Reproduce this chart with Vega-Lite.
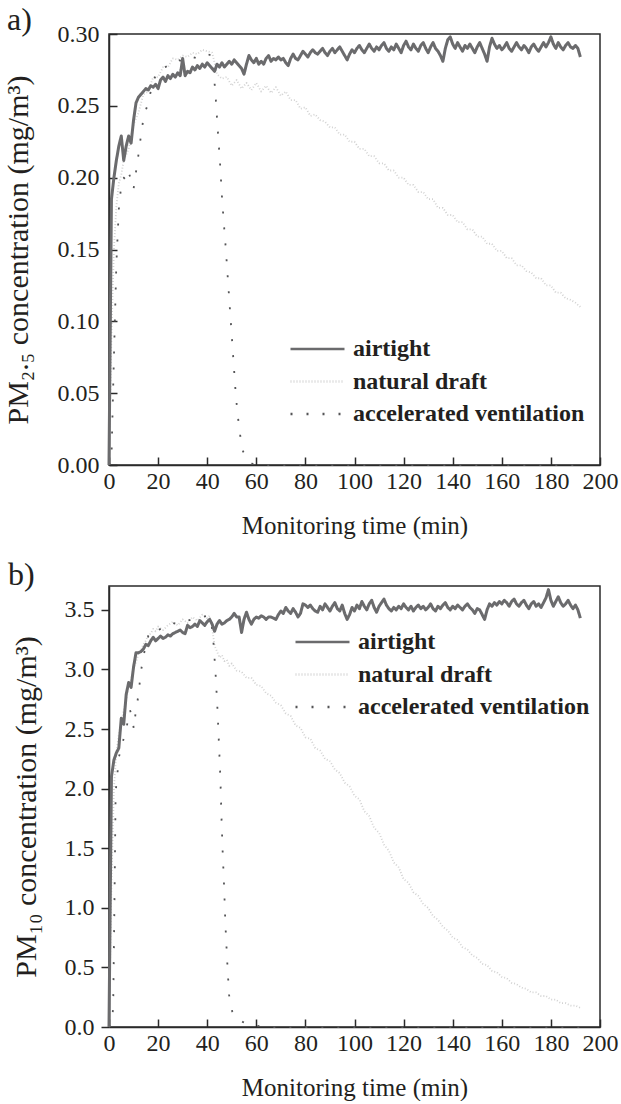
{
"$schema": "https://vega.github.io/schema/vega-lite/v6.json",
"background": "white",
"padding": {"left": 2, "top": 3, "right": 0, "bottom": 0},
"spacing": 19,
"datasets": {
"pa": [
{"s":"natural draft","t":0,"v":0},{"s":"natural draft","t":1,"v":0.09},{"s":"natural draft","t":2,"v":0.15},{"s":"natural draft","t":3,"v":0.18},{"s":"natural draft","t":4,"v":0.196},{"s":"natural draft","t":5,"v":0.202},{"s":"natural draft","t":6,"v":0.212},{"s":"natural draft","t":8,"v":0.22},{"s":"natural draft","t":10,"v":0.237},{"s":"natural draft","t":12,"v":0.245},{"s":"natural draft","t":14,"v":0.258},{"s":"natural draft","t":16,"v":0.26},{"s":"natural draft","t":18,"v":0.27},{"s":"natural draft","t":20,"v":0.27},{"s":"natural draft","t":22,"v":0.277},{"s":"natural draft","t":24,"v":0.277},{"s":"natural draft","t":26,"v":0.283},{"s":"natural draft","t":28,"v":0.282},{"s":"natural draft","t":30,"v":0.285},{"s":"natural draft","t":32,"v":0.284},{"s":"natural draft","t":34,"v":0.287},{"s":"natural draft","t":36,"v":0.286},{"s":"natural draft","t":38,"v":0.289},{"s":"natural draft","t":40,"v":0.288},{"s":"natural draft","t":42,"v":0.287},{"s":"natural draft","t":43,"v":0.28},{"s":"natural draft","t":44,"v":0.272},{"s":"natural draft","t":46,"v":0.269},{"s":"natural draft","t":48,"v":0.27},{"s":"natural draft","t":50,"v":0.264},{"s":"natural draft","t":52,"v":0.268},{"s":"natural draft","t":54,"v":0.262},{"s":"natural draft","t":56,"v":0.266},{"s":"natural draft","t":58,"v":0.261},{"s":"natural draft","t":60,"v":0.266},{"s":"natural draft","t":62,"v":0.26},{"s":"natural draft","t":64,"v":0.264},{"s":"natural draft","t":66,"v":0.259},{"s":"natural draft","t":68,"v":0.263},{"s":"natural draft","t":70,"v":0.257},{"s":"natural draft","t":72,"v":0.26},{"s":"natural draft","t":74,"v":0.254},{"s":"natural draft","t":76,"v":0.254},{"s":"natural draft","t":78,"v":0.248},{"s":"natural draft","t":80,"v":0.249},{"s":"natural draft","t":82,"v":0.243},{"s":"natural draft","t":84,"v":0.244},{"s":"natural draft","t":86,"v":0.24},{"s":"natural draft","t":88,"v":0.239},{"s":"natural draft","t":90,"v":0.235},{"s":"natural draft","t":92,"v":0.235},{"s":"natural draft","t":94,"v":0.23},{"s":"natural draft","t":96,"v":0.23},{"s":"natural draft","t":98,"v":0.225},{"s":"natural draft","t":100,"v":0.225},{"s":"natural draft","t":102,"v":0.22},{"s":"natural draft","t":104,"v":0.22},{"s":"natural draft","t":106,"v":0.215},{"s":"natural draft","t":108,"v":0.215},{"s":"natural draft","t":110,"v":0.21},{"s":"natural draft","t":112,"v":0.21},{"s":"natural draft","t":114,"v":0.205},{"s":"natural draft","t":116,"v":0.205},{"s":"natural draft","t":118,"v":0.2},{"s":"natural draft","t":120,"v":0.2},{"s":"natural draft","t":122,"v":0.195},{"s":"natural draft","t":124,"v":0.195},{"s":"natural draft","t":126,"v":0.19},{"s":"natural draft","t":128,"v":0.19},{"s":"natural draft","t":130,"v":0.185},{"s":"natural draft","t":132,"v":0.185},{"s":"natural draft","t":134,"v":0.179},{"s":"natural draft","t":136,"v":0.179},{"s":"natural draft","t":138,"v":0.174},{"s":"natural draft","t":140,"v":0.174},{"s":"natural draft","t":142,"v":0.169},{"s":"natural draft","t":144,"v":0.169},{"s":"natural draft","t":146,"v":0.164},{"s":"natural draft","t":148,"v":0.164},{"s":"natural draft","t":150,"v":0.159},{"s":"natural draft","t":152,"v":0.159},{"s":"natural draft","t":154,"v":0.154},{"s":"natural draft","t":156,"v":0.154},{"s":"natural draft","t":158,"v":0.149},{"s":"natural draft","t":160,"v":0.149},{"s":"natural draft","t":162,"v":0.144},{"s":"natural draft","t":164,"v":0.144},{"s":"natural draft","t":166,"v":0.139},{"s":"natural draft","t":168,"v":0.139},{"s":"natural draft","t":170,"v":0.135},{"s":"natural draft","t":172,"v":0.134},{"s":"natural draft","t":174,"v":0.13},{"s":"natural draft","t":176,"v":0.13},{"s":"natural draft","t":178,"v":0.125},{"s":"natural draft","t":180,"v":0.125},{"s":"natural draft","t":182,"v":0.12},{"s":"natural draft","t":184,"v":0.12},{"s":"natural draft","t":186,"v":0.116},{"s":"natural draft","t":188,"v":0.115},{"s":"natural draft","t":190,"v":0.113},{"s":"natural draft","t":192,"v":0.11},
{"s":"accelerated ventilation","t":0,"v":0},{"s":"accelerated ventilation","t":1,"v":0.005},{"s":"accelerated ventilation","t":2,"v":0.075},{"s":"accelerated ventilation","t":3,"v":0.14},{"s":"accelerated ventilation","t":4,"v":0.178},{"s":"accelerated ventilation","t":5,"v":0.195},{"s":"accelerated ventilation","t":6,"v":0.2},{"s":"accelerated ventilation","t":7,"v":0.198},{"s":"accelerated ventilation","t":8,"v":0.204},{"s":"accelerated ventilation","t":9,"v":0.198},{"s":"accelerated ventilation","t":10,"v":0.192},{"s":"accelerated ventilation","t":11,"v":0.204},{"s":"accelerated ventilation","t":12,"v":0.216},{"s":"accelerated ventilation","t":13,"v":0.229},{"s":"accelerated ventilation","t":14,"v":0.241},{"s":"accelerated ventilation","t":15,"v":0.247},{"s":"accelerated ventilation","t":16,"v":0.252},{"s":"accelerated ventilation","t":17,"v":0.26},{"s":"accelerated ventilation","t":18,"v":0.267},{"s":"accelerated ventilation","t":19,"v":0.271},{"s":"accelerated ventilation","t":20,"v":0.274},{"s":"accelerated ventilation","t":22,"v":0.276},{"s":"accelerated ventilation","t":24,"v":0.278},{"s":"accelerated ventilation","t":26,"v":0.28},{"s":"accelerated ventilation","t":28,"v":0.282},{"s":"accelerated ventilation","t":30,"v":0.281},{"s":"accelerated ventilation","t":32,"v":0.283},{"s":"accelerated ventilation","t":34,"v":0.284},{"s":"accelerated ventilation","t":36,"v":0.283},{"s":"accelerated ventilation","t":38,"v":0.285},{"s":"accelerated ventilation","t":40,"v":0.286},{"s":"accelerated ventilation","t":42,"v":0.285},{"s":"accelerated ventilation","t":43.3,"v":0.26},{"s":"accelerated ventilation","t":44.2,"v":0.236},{"s":"accelerated ventilation","t":45.2,"v":0.211},{"s":"accelerated ventilation","t":46,"v":0.187},{"s":"accelerated ventilation","t":46.7,"v":0.17},{"s":"accelerated ventilation","t":47.6,"v":0.15},{"s":"accelerated ventilation","t":48.4,"v":0.13},{"s":"accelerated ventilation","t":49.2,"v":0.11},{"s":"accelerated ventilation","t":50,"v":0.09},{"s":"accelerated ventilation","t":50.8,"v":0.07},{"s":"accelerated ventilation","t":51.6,"v":0.05},{"s":"accelerated ventilation","t":52.4,"v":0.035},{"s":"accelerated ventilation","t":53.5,"v":0.02},{"s":"accelerated ventilation","t":54.5,"v":0.01},{"s":"accelerated ventilation","t":56,"v":0.004},{"s":"accelerated ventilation","t":58,"v":0.001},{"s":"accelerated ventilation","t":62,"v":0},{"s":"accelerated ventilation","t":192,"v":0},
{"s":"airtight","t":0,"v":0},{"s":"airtight","t":1,"v":0.185},{"s":"airtight","t":2,"v":0.2},{"s":"airtight","t":3,"v":0.212},{"s":"airtight","t":4,"v":0.222},{"s":"airtight","t":5,"v":0.229},{"s":"airtight","t":6,"v":0.212},{"s":"airtight","t":7,"v":0.222},{"s":"airtight","t":8,"v":0.229},{"s":"airtight","t":9,"v":0.224},{"s":"airtight","t":10,"v":0.24},{"s":"airtight","t":11,"v":0.252},{"s":"airtight","t":12,"v":0.256},{"s":"airtight","t":13,"v":0.258},{"s":"airtight","t":14,"v":0.26},{"s":"airtight","t":15,"v":0.262},{"s":"airtight","t":16,"v":0.261},{"s":"airtight","t":17,"v":0.264},{"s":"airtight","t":18,"v":0.263},{"s":"airtight","t":19,"v":0.265},{"s":"airtight","t":20,"v":0.262},{"s":"airtight","t":21,"v":0.268},{"s":"airtight","t":22,"v":0.27},{"s":"airtight","t":23,"v":0.267},{"s":"airtight","t":24,"v":0.271},{"s":"airtight","t":25,"v":0.269},{"s":"airtight","t":26,"v":0.272},{"s":"airtight","t":27,"v":0.27},{"s":"airtight","t":28,"v":0.273},{"s":"airtight","t":29,"v":0.271},{"s":"airtight","t":30,"v":0.283},{"s":"airtight","t":31,"v":0.271},{"s":"airtight","t":32,"v":0.274},{"s":"airtight","t":33,"v":0.273},{"s":"airtight","t":34,"v":0.277},{"s":"airtight","t":35,"v":0.275},{"s":"airtight","t":36,"v":0.278},{"s":"airtight","t":37,"v":0.276},{"s":"airtight","t":38,"v":0.279},{"s":"airtight","t":39,"v":0.277},{"s":"airtight","t":40,"v":0.28},{"s":"airtight","t":41,"v":0.278},{"s":"airtight","t":42,"v":0.276},{"s":"airtight","t":43,"v":0.274},{"s":"airtight","t":44,"v":0.279},{"s":"airtight","t":45,"v":0.277},{"s":"airtight","t":46,"v":0.28},{"s":"airtight","t":47,"v":0.277},{"s":"airtight","t":48,"v":0.279},{"s":"airtight","t":49,"v":0.281},{"s":"airtight","t":50,"v":0.279},{"s":"airtight","t":51,"v":0.282},{"s":"airtight","t":52,"v":0.28},{"s":"airtight","t":53,"v":0.278},{"s":"airtight","t":54,"v":0.276},{"s":"airtight","t":55,"v":0.272},{"s":"airtight","t":56,"v":0.279},{"s":"airtight","t":57,"v":0.285},{"s":"airtight","t":58,"v":0.282},{"s":"airtight","t":59,"v":0.28},{"s":"airtight","t":60,"v":0.283},{"s":"airtight","t":61,"v":0.279},{"s":"airtight","t":62,"v":0.281},{"s":"airtight","t":63,"v":0.279},{"s":"airtight","t":64,"v":0.283},{"s":"airtight","t":65,"v":0.285},{"s":"airtight","t":66,"v":0.281},{"s":"airtight","t":67,"v":0.283},{"s":"airtight","t":68,"v":0.282},{"s":"airtight","t":69,"v":0.284},{"s":"airtight","t":70,"v":0.282},{"s":"airtight","t":71,"v":0.283},{"s":"airtight","t":72,"v":0.28},{"s":"airtight","t":73,"v":0.278},{"s":"airtight","t":74,"v":0.283},{"s":"airtight","t":75,"v":0.286},{"s":"airtight","t":76,"v":0.283},{"s":"airtight","t":77,"v":0.282},{"s":"airtight","t":78,"v":0.285},{"s":"airtight","t":79,"v":0.288},{"s":"airtight","t":80,"v":0.286},{"s":"airtight","t":81,"v":0.284},{"s":"airtight","t":82,"v":0.287},{"s":"airtight","t":83,"v":0.289},{"s":"airtight","t":84,"v":0.287},{"s":"airtight","t":85,"v":0.286},{"s":"airtight","t":86,"v":0.288},{"s":"airtight","t":87,"v":0.29},{"s":"airtight","t":88,"v":0.287},{"s":"airtight","t":89,"v":0.285},{"s":"airtight","t":90,"v":0.288},{"s":"airtight","t":91,"v":0.29},{"s":"airtight","t":92,"v":0.287},{"s":"airtight","t":93,"v":0.289},{"s":"airtight","t":94,"v":0.291},{"s":"airtight","t":95,"v":0.288},{"s":"airtight","t":96,"v":0.285},{"s":"airtight","t":97,"v":0.282},{"s":"airtight","t":98,"v":0.286},{"s":"airtight","t":99,"v":0.289},{"s":"airtight","t":100,"v":0.287},{"s":"airtight","t":101,"v":0.29},{"s":"airtight","t":102,"v":0.292},{"s":"airtight","t":103,"v":0.289},{"s":"airtight","t":104,"v":0.287},{"s":"airtight","t":105,"v":0.29},{"s":"airtight","t":106,"v":0.293},{"s":"airtight","t":107,"v":0.29},{"s":"airtight","t":108,"v":0.288},{"s":"airtight","t":109,"v":0.291},{"s":"airtight","t":110,"v":0.289},{"s":"airtight","t":111,"v":0.292},{"s":"airtight","t":112,"v":0.294},{"s":"airtight","t":113,"v":0.29},{"s":"airtight","t":114,"v":0.288},{"s":"airtight","t":115,"v":0.291},{"s":"airtight","t":116,"v":0.289},{"s":"airtight","t":117,"v":0.293},{"s":"airtight","t":118,"v":0.29},{"s":"airtight","t":119,"v":0.287},{"s":"airtight","t":120,"v":0.292},{"s":"airtight","t":121,"v":0.295},{"s":"airtight","t":122,"v":0.291},{"s":"airtight","t":123,"v":0.289},{"s":"airtight","t":124,"v":0.293},{"s":"airtight","t":125,"v":0.29},{"s":"airtight","t":126,"v":0.288},{"s":"airtight","t":127,"v":0.292},{"s":"airtight","t":128,"v":0.294},{"s":"airtight","t":129,"v":0.29},{"s":"airtight","t":130,"v":0.287},{"s":"airtight","t":131,"v":0.291},{"s":"airtight","t":132,"v":0.294},{"s":"airtight","t":133,"v":0.29},{"s":"airtight","t":134,"v":0.288},{"s":"airtight","t":135,"v":0.285},{"s":"airtight","t":136,"v":0.281},{"s":"airtight","t":137,"v":0.29},{"s":"airtight","t":138,"v":0.296},{"s":"airtight","t":139,"v":0.298},{"s":"airtight","t":140,"v":0.293},{"s":"airtight","t":141,"v":0.29},{"s":"airtight","t":142,"v":0.294},{"s":"airtight","t":143,"v":0.291},{"s":"airtight","t":144,"v":0.288},{"s":"airtight","t":145,"v":0.292},{"s":"airtight","t":146,"v":0.29},{"s":"airtight","t":147,"v":0.293},{"s":"airtight","t":148,"v":0.29},{"s":"airtight","t":149,"v":0.287},{"s":"airtight","t":150,"v":0.291},{"s":"airtight","t":151,"v":0.294},{"s":"airtight","t":152,"v":0.29},{"s":"airtight","t":153,"v":0.286},{"s":"airtight","t":154,"v":0.281},{"s":"airtight","t":155,"v":0.291},{"s":"airtight","t":156,"v":0.297},{"s":"airtight","t":157,"v":0.293},{"s":"airtight","t":158,"v":0.29},{"s":"airtight","t":159,"v":0.292},{"s":"airtight","t":160,"v":0.289},{"s":"airtight","t":161,"v":0.291},{"s":"airtight","t":162,"v":0.294},{"s":"airtight","t":163,"v":0.29},{"s":"airtight","t":164,"v":0.288},{"s":"airtight","t":165,"v":0.291},{"s":"airtight","t":166,"v":0.294},{"s":"airtight","t":167,"v":0.291},{"s":"airtight","t":168,"v":0.289},{"s":"airtight","t":169,"v":0.292},{"s":"airtight","t":170,"v":0.29},{"s":"airtight","t":171,"v":0.287},{"s":"airtight","t":172,"v":0.291},{"s":"airtight","t":173,"v":0.293},{"s":"airtight","t":174,"v":0.29},{"s":"airtight","t":175,"v":0.288},{"s":"airtight","t":176,"v":0.291},{"s":"airtight","t":177,"v":0.294},{"s":"airtight","t":178,"v":0.291},{"s":"airtight","t":179,"v":0.294},{"s":"airtight","t":180,"v":0.298},{"s":"airtight","t":181,"v":0.293},{"s":"airtight","t":182,"v":0.29},{"s":"airtight","t":183,"v":0.294},{"s":"airtight","t":184,"v":0.291},{"s":"airtight","t":185,"v":0.289},{"s":"airtight","t":186,"v":0.292},{"s":"airtight","t":187,"v":0.294},{"s":"airtight","t":188,"v":0.291},{"s":"airtight","t":189,"v":0.29},{"s":"airtight","t":190,"v":0.292},{"s":"airtight","t":191,"v":0.29},{"s":"airtight","t":192,"v":0.284}
],
"pb": [
{"s":"natural draft","t":0,"v":0},{"s":"natural draft","t":1,"v":1.2},{"s":"natural draft","t":2,"v":2.0},{"s":"natural draft","t":3,"v":2.3},{"s":"natural draft","t":4,"v":2.46},{"s":"natural draft","t":5,"v":2.55},{"s":"natural draft","t":6,"v":2.66},{"s":"natural draft","t":7,"v":2.74},{"s":"natural draft","t":8,"v":2.86},{"s":"natural draft","t":9,"v":2.92},{"s":"natural draft","t":10,"v":3.01},{"s":"natural draft","t":11,"v":3.06},{"s":"natural draft","t":12,"v":3.13},{"s":"natural draft","t":13,"v":3.16},{"s":"natural draft","t":14,"v":3.21},{"s":"natural draft","t":15,"v":3.24},{"s":"natural draft","t":16,"v":3.29},{"s":"natural draft","t":17,"v":3.3},{"s":"natural draft","t":18,"v":3.34},{"s":"natural draft","t":19,"v":3.32},{"s":"natural draft","t":20,"v":3.36},{"s":"natural draft","t":22,"v":3.33},{"s":"natural draft","t":24,"v":3.37},{"s":"natural draft","t":26,"v":3.4},{"s":"natural draft","t":28,"v":3.37},{"s":"natural draft","t":30,"v":3.42},{"s":"natural draft","t":32,"v":3.39},{"s":"natural draft","t":34,"v":3.44},{"s":"natural draft","t":36,"v":3.41},{"s":"natural draft","t":38,"v":3.46},{"s":"natural draft","t":40,"v":3.43},{"s":"natural draft","t":41,"v":3.45},{"s":"natural draft","t":42,"v":3.35},{"s":"natural draft","t":43,"v":3.2},{"s":"natural draft","t":44,"v":3.15},{"s":"natural draft","t":45,"v":3.1},{"s":"natural draft","t":46,"v":3.12},{"s":"natural draft","t":47,"v":3.07},{"s":"natural draft","t":48,"v":3.08},{"s":"natural draft","t":49,"v":3.03},{"s":"natural draft","t":50,"v":3.05},{"s":"natural draft","t":52,"v":2.99},{"s":"natural draft","t":54,"v":2.98},{"s":"natural draft","t":56,"v":2.93},{"s":"natural draft","t":58,"v":2.93},{"s":"natural draft","t":60,"v":2.87},{"s":"natural draft","t":62,"v":2.86},{"s":"natural draft","t":64,"v":2.8},{"s":"natural draft","t":66,"v":2.78},{"s":"natural draft","t":68,"v":2.72},{"s":"natural draft","t":70,"v":2.7},{"s":"natural draft","t":72,"v":2.63},{"s":"natural draft","t":74,"v":2.61},{"s":"natural draft","t":76,"v":2.53},{"s":"natural draft","t":78,"v":2.51},{"s":"natural draft","t":80,"v":2.43},{"s":"natural draft","t":82,"v":2.42},{"s":"natural draft","t":84,"v":2.34},{"s":"natural draft","t":86,"v":2.32},{"s":"natural draft","t":88,"v":2.25},{"s":"natural draft","t":90,"v":2.23},{"s":"natural draft","t":92,"v":2.16},{"s":"natural draft","t":94,"v":2.13},{"s":"natural draft","t":96,"v":2.05},{"s":"natural draft","t":98,"v":2.02},{"s":"natural draft","t":100,"v":1.94},{"s":"natural draft","t":102,"v":1.91},{"s":"natural draft","t":104,"v":1.81},{"s":"natural draft","t":106,"v":1.77},{"s":"natural draft","t":108,"v":1.67},{"s":"natural draft","t":110,"v":1.63},{"s":"natural draft","t":112,"v":1.53},{"s":"natural draft","t":114,"v":1.48},{"s":"natural draft","t":116,"v":1.38},{"s":"natural draft","t":118,"v":1.34},{"s":"natural draft","t":120,"v":1.24},{"s":"natural draft","t":122,"v":1.21},{"s":"natural draft","t":124,"v":1.13},{"s":"natural draft","t":126,"v":1.1},{"s":"natural draft","t":128,"v":1.03},{"s":"natural draft","t":130,"v":1.0},{"s":"natural draft","t":132,"v":0.93},{"s":"natural draft","t":134,"v":0.9},{"s":"natural draft","t":136,"v":0.84},{"s":"natural draft","t":138,"v":0.81},{"s":"natural draft","t":140,"v":0.75},{"s":"natural draft","t":142,"v":0.73},{"s":"natural draft","t":144,"v":0.67},{"s":"natural draft","t":146,"v":0.65},{"s":"natural draft","t":148,"v":0.6},{"s":"natural draft","t":150,"v":0.58},{"s":"natural draft","t":152,"v":0.53},{"s":"natural draft","t":154,"v":0.52},{"s":"natural draft","t":156,"v":0.47},{"s":"natural draft","t":158,"v":0.46},{"s":"natural draft","t":160,"v":0.42},{"s":"natural draft","t":162,"v":0.41},{"s":"natural draft","t":164,"v":0.37},{"s":"natural draft","t":166,"v":0.36},{"s":"natural draft","t":168,"v":0.33},{"s":"natural draft","t":170,"v":0.32},{"s":"natural draft","t":172,"v":0.29},{"s":"natural draft","t":174,"v":0.29},{"s":"natural draft","t":176,"v":0.26},{"s":"natural draft","t":178,"v":0.26},{"s":"natural draft","t":180,"v":0.23},{"s":"natural draft","t":182,"v":0.23},{"s":"natural draft","t":184,"v":0.2},{"s":"natural draft","t":186,"v":0.2},{"s":"natural draft","t":188,"v":0.18},{"s":"natural draft","t":190,"v":0.18},{"s":"natural draft","t":192,"v":0.16},
{"s":"accelerated ventilation","t":0,"v":0},{"s":"accelerated ventilation","t":1,"v":0.02},{"s":"accelerated ventilation","t":1.7,"v":0.16},{"s":"accelerated ventilation","t":2.2,"v":1.0},{"s":"accelerated ventilation","t":2.7,"v":1.97},{"s":"accelerated ventilation","t":3.4,"v":2.12},{"s":"accelerated ventilation","t":4,"v":2.26},{"s":"accelerated ventilation","t":5,"v":2.35},{"s":"accelerated ventilation","t":6,"v":2.42},{"s":"accelerated ventilation","t":7,"v":2.5},{"s":"accelerated ventilation","t":8,"v":2.6},{"s":"accelerated ventilation","t":8.5,"v":2.66},{"s":"accelerated ventilation","t":9.4,"v":2.61},{"s":"accelerated ventilation","t":10.1,"v":2.5},{"s":"accelerated ventilation","t":10.8,"v":2.63},{"s":"accelerated ventilation","t":12.1,"v":2.8},{"s":"accelerated ventilation","t":12.8,"v":2.95},{"s":"accelerated ventilation","t":13.9,"v":3.1},{"s":"accelerated ventilation","t":15,"v":3.2},{"s":"accelerated ventilation","t":16,"v":3.28},{"s":"accelerated ventilation","t":18,"v":3.34},{"s":"accelerated ventilation","t":20,"v":3.33},{"s":"accelerated ventilation","t":22,"v":3.35},{"s":"accelerated ventilation","t":24,"v":3.37},{"s":"accelerated ventilation","t":26,"v":3.39},{"s":"accelerated ventilation","t":28,"v":3.38},{"s":"accelerated ventilation","t":30,"v":3.4},{"s":"accelerated ventilation","t":32,"v":3.41},{"s":"accelerated ventilation","t":34,"v":3.42},{"s":"accelerated ventilation","t":36,"v":3.43},{"s":"accelerated ventilation","t":38,"v":3.44},{"s":"accelerated ventilation","t":40,"v":3.45},{"s":"accelerated ventilation","t":41.5,"v":3.42},{"s":"accelerated ventilation","t":42.4,"v":3.27},{"s":"accelerated ventilation","t":43.4,"v":2.97},{"s":"accelerated ventilation","t":44.2,"v":2.66},{"s":"accelerated ventilation","t":44.8,"v":2.37},{"s":"accelerated ventilation","t":45.4,"v":2.07},{"s":"accelerated ventilation","t":45.8,"v":1.77},{"s":"accelerated ventilation","t":46.3,"v":1.47},{"s":"accelerated ventilation","t":46.9,"v":1.17},{"s":"accelerated ventilation","t":47.4,"v":0.87},{"s":"accelerated ventilation","t":48.1,"v":0.57},{"s":"accelerated ventilation","t":48.9,"v":0.27},{"s":"accelerated ventilation","t":50.2,"v":0.13},{"s":"accelerated ventilation","t":52,"v":0.07},{"s":"accelerated ventilation","t":55.6,"v":0.03},{"s":"accelerated ventilation","t":60,"v":0.01},{"s":"accelerated ventilation","t":64,"v":0},{"s":"accelerated ventilation","t":192,"v":0},
{"s":"airtight","t":0,"v":0},{"s":"airtight","t":1,"v":2.1},{"s":"airtight","t":2,"v":2.24},{"s":"airtight","t":3,"v":2.3},{"s":"airtight","t":4,"v":2.34},{"s":"airtight","t":5,"v":2.59},{"s":"airtight","t":6,"v":2.54},{"s":"airtight","t":7,"v":2.79},{"s":"airtight","t":8,"v":2.89},{"s":"airtight","t":9,"v":2.85},{"s":"airtight","t":10,"v":3.02},{"s":"airtight","t":11,"v":3.14},{"s":"airtight","t":12,"v":3.14},{"s":"airtight","t":13,"v":3.15},{"s":"airtight","t":14,"v":3.17},{"s":"airtight","t":15,"v":3.21},{"s":"airtight","t":16,"v":3.2},{"s":"airtight","t":17,"v":3.24},{"s":"airtight","t":18,"v":3.27},{"s":"airtight","t":19,"v":3.24},{"s":"airtight","t":20,"v":3.26},{"s":"airtight","t":21,"v":3.28},{"s":"airtight","t":22,"v":3.26},{"s":"airtight","t":23,"v":3.27},{"s":"airtight","t":24,"v":3.29},{"s":"airtight","t":25,"v":3.28},{"s":"airtight","t":26,"v":3.3},{"s":"airtight","t":27,"v":3.31},{"s":"airtight","t":28,"v":3.32},{"s":"airtight","t":29,"v":3.33},{"s":"airtight","t":30,"v":3.31},{"s":"airtight","t":31,"v":3.3},{"s":"airtight","t":32,"v":3.37},{"s":"airtight","t":33,"v":3.35},{"s":"airtight","t":34,"v":3.36},{"s":"airtight","t":35,"v":3.38},{"s":"airtight","t":36,"v":3.36},{"s":"airtight","t":37,"v":3.41},{"s":"airtight","t":38,"v":3.39},{"s":"airtight","t":39,"v":3.37},{"s":"airtight","t":40,"v":3.4},{"s":"airtight","t":41,"v":3.42},{"s":"airtight","t":42,"v":3.38},{"s":"airtight","t":43,"v":3.32},{"s":"airtight","t":44,"v":3.38},{"s":"airtight","t":45,"v":3.41},{"s":"airtight","t":46,"v":3.38},{"s":"airtight","t":47,"v":3.39},{"s":"airtight","t":48,"v":3.41},{"s":"airtight","t":49,"v":3.42},{"s":"airtight","t":50,"v":3.44},{"s":"airtight","t":51,"v":3.47},{"s":"airtight","t":52,"v":3.44},{"s":"airtight","t":53,"v":3.44},{"s":"airtight","t":54,"v":3.31},{"s":"airtight","t":55,"v":3.42},{"s":"airtight","t":56,"v":3.48},{"s":"airtight","t":57,"v":3.42},{"s":"airtight","t":58,"v":3.38},{"s":"airtight","t":59,"v":3.42},{"s":"airtight","t":60,"v":3.44},{"s":"airtight","t":61,"v":3.43},{"s":"airtight","t":62,"v":3.45},{"s":"airtight","t":63,"v":3.44},{"s":"airtight","t":64,"v":3.42},{"s":"airtight","t":65,"v":3.44},{"s":"airtight","t":66,"v":3.44},{"s":"airtight","t":67,"v":3.43},{"s":"airtight","t":68,"v":3.42},{"s":"airtight","t":69,"v":3.46},{"s":"airtight","t":70,"v":3.49},{"s":"airtight","t":71,"v":3.47},{"s":"airtight","t":72,"v":3.52},{"s":"airtight","t":73,"v":3.49},{"s":"airtight","t":74,"v":3.47},{"s":"airtight","t":75,"v":3.51},{"s":"airtight","t":76,"v":3.48},{"s":"airtight","t":77,"v":3.44},{"s":"airtight","t":78,"v":3.47},{"s":"airtight","t":79,"v":3.55},{"s":"airtight","t":80,"v":3.54},{"s":"airtight","t":81,"v":3.52},{"s":"airtight","t":82,"v":3.54},{"s":"airtight","t":83,"v":3.51},{"s":"airtight","t":84,"v":3.49},{"s":"airtight","t":85,"v":3.48},{"s":"airtight","t":86,"v":3.53},{"s":"airtight","t":87,"v":3.5},{"s":"airtight","t":88,"v":3.55},{"s":"airtight","t":89,"v":3.52},{"s":"airtight","t":90,"v":3.49},{"s":"airtight","t":91,"v":3.53},{"s":"airtight","t":92,"v":3.56},{"s":"airtight","t":93,"v":3.51},{"s":"airtight","t":94,"v":3.49},{"s":"airtight","t":95,"v":3.54},{"s":"airtight","t":96,"v":3.47},{"s":"airtight","t":97,"v":3.42},{"s":"airtight","t":98,"v":3.46},{"s":"airtight","t":99,"v":3.52},{"s":"airtight","t":100,"v":3.49},{"s":"airtight","t":101,"v":3.54},{"s":"airtight","t":102,"v":3.51},{"s":"airtight","t":103,"v":3.57},{"s":"airtight","t":104,"v":3.53},{"s":"airtight","t":105,"v":3.5},{"s":"airtight","t":106,"v":3.55},{"s":"airtight","t":107,"v":3.58},{"s":"airtight","t":108,"v":3.52},{"s":"airtight","t":109,"v":3.48},{"s":"airtight","t":110,"v":3.53},{"s":"airtight","t":111,"v":3.56},{"s":"airtight","t":112,"v":3.59},{"s":"airtight","t":113,"v":3.54},{"s":"airtight","t":114,"v":3.51},{"s":"airtight","t":115,"v":3.49},{"s":"airtight","t":116,"v":3.52},{"s":"airtight","t":117,"v":3.5},{"s":"airtight","t":118,"v":3.53},{"s":"airtight","t":119,"v":3.51},{"s":"airtight","t":120,"v":3.55},{"s":"airtight","t":121,"v":3.52},{"s":"airtight","t":122,"v":3.5},{"s":"airtight","t":123,"v":3.53},{"s":"airtight","t":124,"v":3.49},{"s":"airtight","t":125,"v":3.52},{"s":"airtight","t":126,"v":3.54},{"s":"airtight","t":127,"v":3.51},{"s":"airtight","t":128,"v":3.53},{"s":"airtight","t":129,"v":3.5},{"s":"airtight","t":130,"v":3.52},{"s":"airtight","t":131,"v":3.55},{"s":"airtight","t":132,"v":3.51},{"s":"airtight","t":133,"v":3.49},{"s":"airtight","t":134,"v":3.53},{"s":"airtight","t":135,"v":3.51},{"s":"airtight","t":136,"v":3.54},{"s":"airtight","t":137,"v":3.56},{"s":"airtight","t":138,"v":3.52},{"s":"airtight","t":139,"v":3.5},{"s":"airtight","t":140,"v":3.53},{"s":"airtight","t":141,"v":3.51},{"s":"airtight","t":142,"v":3.54},{"s":"airtight","t":143,"v":3.52},{"s":"airtight","t":144,"v":3.5},{"s":"airtight","t":145,"v":3.53},{"s":"airtight","t":146,"v":3.55},{"s":"airtight","t":147,"v":3.52},{"s":"airtight","t":148,"v":3.5},{"s":"airtight","t":149,"v":3.47},{"s":"airtight","t":150,"v":3.51},{"s":"airtight","t":151,"v":3.5},{"s":"airtight","t":152,"v":3.46},{"s":"airtight","t":153,"v":3.42},{"s":"airtight","t":154,"v":3.5},{"s":"airtight","t":155,"v":3.55},{"s":"airtight","t":156,"v":3.53},{"s":"airtight","t":157,"v":3.56},{"s":"airtight","t":158,"v":3.54},{"s":"airtight","t":159,"v":3.57},{"s":"airtight","t":160,"v":3.55},{"s":"airtight","t":161,"v":3.58},{"s":"airtight","t":162,"v":3.56},{"s":"airtight","t":163,"v":3.53},{"s":"airtight","t":164,"v":3.57},{"s":"airtight","t":165,"v":3.59},{"s":"airtight","t":166,"v":3.55},{"s":"airtight","t":167,"v":3.53},{"s":"airtight","t":168,"v":3.56},{"s":"airtight","t":169,"v":3.58},{"s":"airtight","t":170,"v":3.54},{"s":"airtight","t":171,"v":3.51},{"s":"airtight","t":172,"v":3.55},{"s":"airtight","t":173,"v":3.57},{"s":"airtight","t":174,"v":3.53},{"s":"airtight","t":175,"v":3.55},{"s":"airtight","t":176,"v":3.52},{"s":"airtight","t":177,"v":3.56},{"s":"airtight","t":178,"v":3.6},{"s":"airtight","t":179,"v":3.67},{"s":"airtight","t":180,"v":3.58},{"s":"airtight","t":181,"v":3.53},{"s":"airtight","t":182,"v":3.57},{"s":"airtight","t":183,"v":3.61},{"s":"airtight","t":184,"v":3.56},{"s":"airtight","t":185,"v":3.53},{"s":"airtight","t":186,"v":3.55},{"s":"airtight","t":187,"v":3.58},{"s":"airtight","t":188,"v":3.54},{"s":"airtight","t":189,"v":3.51},{"s":"airtight","t":190,"v":3.54},{"s":"airtight","t":191,"v":3.5},{"s":"airtight","t":192,"v":3.43}
]
},
"vconcat": [
{
"width": 491, "height": 431,
"title": {"text": "a)", "anchor": "start", "frame": "bounds", "baseline": "alphabetic", "offset": -40, "dx": 4},
"data": {"name": "pa"},
"mark": {"type": "line", "strokeJoin": "round", "strokeCap": "butt"},
"encoding": {
"x": {"field": "t", "type": "quantitative", "scale": {"domain": [0, 200], "nice": false},
"axis": {"values": [0,20,40,60,80,100,120,140,160,180,200], "title": "Monitoring time (min)", "tickSize": -8, "labelPadding": 12, "titlePadding": 20}},
"y": {"field": "v", "type": "quantitative", "scale": {"domain": [0, 0.3], "nice": false},
"axis": {"values": [0,0.05,0.1,0.15,0.2,0.25,0.3], "format": ".2f", "title": "PM₂.₅ concentration (mg/m³)", "tickSize": -8, "labelPadding": 18, "titlePadding": 24}},
"color": {"field": "s", "type": "nominal", "scale": {"domain": ["airtight", "natural draft", "accelerated ventilation"], "range": ["#6b6b6d", "#d2d2d2", "#555557"]},
"legend": {"title": null, "orient": "none", "legendX": 180, "legendY": 303}},
"strokeDash": {"field": "s", "type": "nominal", "scale": {"domain": ["airtight", "natural draft", "accelerated ventilation"], "range": [[1, 0], [1, 2], [2, 14]]},
"legend": {"title": null, "orient": "none", "legendX": 180, "legendY": 303}},
"strokeWidth": {"condition": {"test": "datum.s === 'airtight'", "value": 3}, "value": 1.8}
}
},
{
"width": 491, "height": 441,
"title": {"text": "b)", "anchor": "start", "frame": "bounds", "baseline": "alphabetic", "offset": -31, "dx": -3},
"data": {"name": "pb"},
"mark": {"type": "line", "strokeJoin": "round", "strokeCap": "butt"},
"encoding": {
"x": {"field": "t", "type": "quantitative", "scale": {"domain": [0, 200], "nice": false},
"axis": {"values": [0,20,40,60,80,100,120,140,160,180,200], "title": "Monitoring time (min)", "tickSize": -8, "labelPadding": 12, "titlePadding": 20}},
"y": {"field": "v", "type": "quantitative", "scale": {"domain": [0, 3.7], "nice": false},
"axis": {"values": [0,0.5,1,1.5,2,2.5,3,3.5], "format": ".1f", "title": "PM₁₀ concentration (mg/m³)", "tickSize": 8, "labelPadding": 7, "titlePadding": 23}},
"color": {"field": "s", "type": "nominal", "scale": {"domain": ["airtight", "natural draft", "accelerated ventilation"], "range": ["#6b6b6d", "#d2d2d2", "#555557"]},
"legend": {"title": null, "orient": "none", "legendX": 185, "legendY": 44}},
"strokeDash": {"field": "s", "type": "nominal", "scale": {"domain": ["airtight", "natural draft", "accelerated ventilation"], "range": [[1, 0], [1, 2], [2, 14]]},
"legend": {"title": null, "orient": "none", "legendX": 185, "legendY": 44}},
"strokeWidth": {"condition": {"test": "datum.s === 'airtight'", "value": 3}, "value": 1.8}
}
}
],
"resolve": {"scale": {"color": "independent", "strokeDash": "independent", "x": "independent", "y": "independent"}, "legend": {"color": "independent", "strokeDash": "independent"}},
"config": {
"font": "Liberation Serif",
"view": {"stroke": "#2a2a2a", "strokeWidth": 1.5},
"axis": {"grid": false, "domainColor": "#2a2a2a", "domainWidth": 1.5, "tickColor": "#2a2a2a", "tickWidth": 1.5, "labelFont": "Liberation Serif", "labelFontSize": 24, "labelColor": "#231f20", "titleFont": "Liberation Serif", "titleFontSize": 25, "titleFontWeight": "normal", "titleColor": "#231f20", "labelFlush": false, "labelOverlap": false},
"axisY": {"titleFontSize": 30},
"title": {"font": "Liberation Serif", "fontSize": 32, "fontWeight": "normal", "color": "#231f20"},
"legend": {"symbolType": "stroke", "symbolSize": 2916, "labelFont": "Liberation Serif", "labelFontWeight": "bold", "labelFontSize": 24, "labelColor": "#231f20", "labelOffset": 7, "rowPadding": 8.5, "clipHeight": 24, "labelLimit": 400, "symbolStrokeWidth": 2.6}
}
}
